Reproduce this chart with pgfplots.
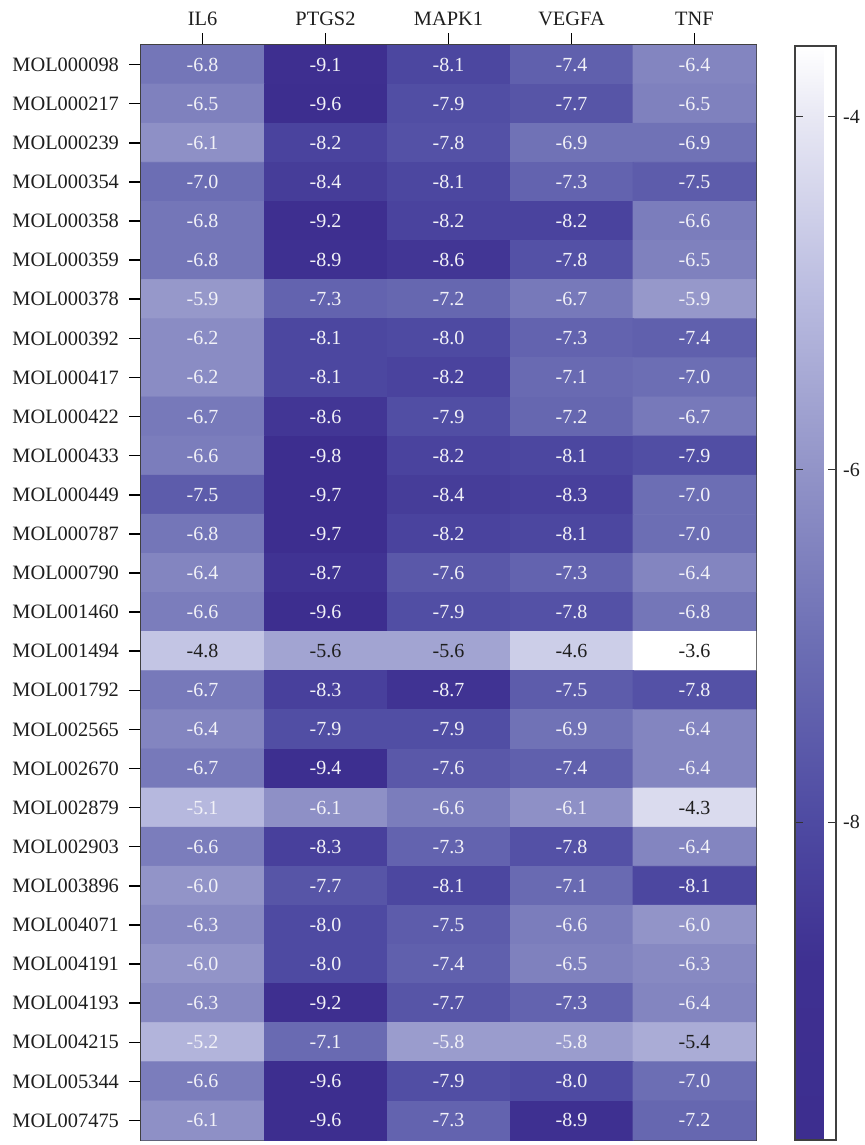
\documentclass[border=0pt]{standalone}
\usepackage{pgfplots}
\usepackage{pgfplotstable}
\pgfplotsset{compat=1.18}
\usepackage{fontspec}
\setmainfont{Liberation Serif}
\definecolor{txtdark}{RGB}{30,30,30}
\definecolor{txtlight}{RGB}{242,242,248}
\pgfplotsset{colormap={purp}{
 rgb255(0pt)=(61,46,143);
 rgb255(10pt)=(62,48,145);
 rgb255(18pt)=(78,74,162);
 rgb255(28pt)=(108,110,180);
 rgb255(38pt)=(146,148,200);
 rgb255(48pt)=(186,188,224);
 rgb255(58pt)=(232,232,244);
 rgb255(62pt)=(255,255,255)}}
\pgfplotstableread{
x y z d
0 0 -6.8 0
1 0 -9.1 0
2 0 -8.1 0
3 0 -7.4 0
4 0 -6.4 0
0 1 -6.5 0
1 1 -9.6 0
2 1 -7.9 0
3 1 -7.7 0
4 1 -6.5 0
0 2 -6.1 0
1 2 -8.2 0
2 2 -7.8 0
3 2 -6.9 0
4 2 -6.9 0
0 3 -7.0 0
1 3 -8.4 0
2 3 -8.1 0
3 3 -7.3 0
4 3 -7.5 0
0 4 -6.8 0
1 4 -9.2 0
2 4 -8.2 0
3 4 -8.2 0
4 4 -6.6 0
0 5 -6.8 0
1 5 -8.9 0
2 5 -8.6 0
3 5 -7.8 0
4 5 -6.5 0
0 6 -5.9 0
1 6 -7.3 0
2 6 -7.2 0
3 6 -6.7 0
4 6 -5.9 0
0 7 -6.2 0
1 7 -8.1 0
2 7 -8.0 0
3 7 -7.3 0
4 7 -7.4 0
0 8 -6.2 0
1 8 -8.1 0
2 8 -8.2 0
3 8 -7.1 0
4 8 -7.0 0
0 9 -6.7 0
1 9 -8.6 0
2 9 -7.9 0
3 9 -7.2 0
4 9 -6.7 0
0 10 -6.6 0
1 10 -9.8 0
2 10 -8.2 0
3 10 -8.1 0
4 10 -7.9 0
0 11 -7.5 0
1 11 -9.7 0
2 11 -8.4 0
3 11 -8.3 0
4 11 -7.0 0
0 12 -6.8 0
1 12 -9.7 0
2 12 -8.2 0
3 12 -8.1 0
4 12 -7.0 0
0 13 -6.4 0
1 13 -8.7 0
2 13 -7.6 0
3 13 -7.3 0
4 13 -6.4 0
0 14 -6.6 0
1 14 -9.6 0
2 14 -7.9 0
3 14 -7.8 0
4 14 -6.8 0
0 15 -4.8 1
1 15 -5.6 1
2 15 -5.6 1
3 15 -4.6 1
4 15 -3.6 1
0 16 -6.7 0
1 16 -8.3 0
2 16 -8.7 0
3 16 -7.5 0
4 16 -7.8 0
0 17 -6.4 0
1 17 -7.9 0
2 17 -7.9 0
3 17 -6.9 0
4 17 -6.4 0
0 18 -6.7 0
1 18 -9.4 0
2 18 -7.6 0
3 18 -7.4 0
4 18 -6.4 0
0 19 -5.1 0
1 19 -6.1 0
2 19 -6.6 0
3 19 -6.1 0
4 19 -4.3 1
0 20 -6.6 0
1 20 -8.3 0
2 20 -7.3 0
3 20 -7.8 0
4 20 -6.4 0
0 21 -6.0 0
1 21 -7.7 0
2 21 -8.1 0
3 21 -7.1 0
4 21 -8.1 0
0 22 -6.3 0
1 22 -8.0 0
2 22 -7.5 0
3 22 -6.6 0
4 22 -6.0 0
0 23 -6.0 0
1 23 -8.0 0
2 23 -7.4 0
3 23 -6.5 0
4 23 -6.3 0
0 24 -6.3 0
1 24 -9.2 0
2 24 -7.7 0
3 24 -7.3 0
4 24 -6.4 0
0 25 -5.2 0
1 25 -7.1 0
2 25 -5.8 0
3 25 -5.8 0
4 25 -5.4 1
0 26 -6.6 0
1 26 -9.6 0
2 26 -7.9 0
3 26 -8.0 0
4 26 -7.0 0
0 27 -6.1 0
1 27 -9.6 0
2 27 -7.3 0
3 27 -8.9 0
4 27 -7.2 0
}\heat
\begin{document}
\begin{tikzpicture}
\path[use as bounding box] (0,0) rectangle (432.5pt,-572.5pt);
\begin{axis}[
  at={(70.5pt,-22.5pt)}, anchor=north west,
  scale only axis, width=307.5pt, height=547.5pt,
  xmin=-0.5, xmax=4.5, ymin=-0.5, ymax=27.5, y dir=reverse,
  xtick={0,1,2,3,4}, xticklabels={IL6,PTGS2,MAPK1,VEGFA,TNF},
  ytick={0,...,27},
  yticklabels={MOL000098,MOL000217,MOL000239,MOL000354,MOL000358,MOL000359,MOL000378,MOL000392,MOL000417,MOL000422,MOL000433,MOL000449,MOL000787,MOL000790,MOL001460,MOL001494,MOL001792,MOL002565,MOL002670,MOL002879,MOL002903,MOL003896,MOL004071,MOL004191,MOL004193,MOL004215,MOL005344,MOL007475},
  xtick pos=right, xticklabel pos=right, ytick pos=left,
  tick align=outside, major tick length=6pt,
  tick style={line width=0.75pt, black},
  axis line style={line width=0.6pt, black!75},
  every tick label/.append style={font=\fontsize{10.2}{12}\selectfont, text=txtdark},
  yticklabel style={xshift=-1.5pt},
  point meta min=-9.8, point meta max=-3.6,
  colormap name=purp,
  colorbar,
  colorbar style={
    at={(parent axis.north east)}, anchor=north west,
    xshift=11pt, yshift=-0.5pt,
    scale only axis, width=20.5pt, height=547pt,
    ytick={-8,-6,-4}, yticklabels={-8,-6,-4},
    ytick pos=both, yticklabel pos=right,
    tick align=inside, major tick length=4pt,
    tick style={line width=0.6pt, black!80},
    axis line style={line width=0.6pt, black!75},
    every tick label/.append style={font=\fontsize{10}{12}\selectfont, text=txtdark},
  },
]
\addplot[matrix plot*, mesh/cols=5, point meta=explicit] table[x=x, y=y, meta=z] {\heat};
\addplot[only marks, mark=none, point meta=explicit symbolic,
  restrict expr to domain={\thisrow{d}}{-0.5:0.5},
  nodes near coords,
  every node near coord/.append style={anchor=center, text=txtlight, font=\fontsize{10}{12}\selectfont}]
  table[x=x, y=y, meta=z] {\heat};
\addplot[only marks, mark=none, point meta=explicit symbolic,
  restrict expr to domain={\thisrow{d}}{0.5:1.5},
  nodes near coords,
  every node near coord/.append style={anchor=center, text=txtdark, font=\fontsize{10}{12}\selectfont}]
  table[x=x, y=y, meta=z] {\heat};
\end{axis}
\end{tikzpicture}
\end{document}
